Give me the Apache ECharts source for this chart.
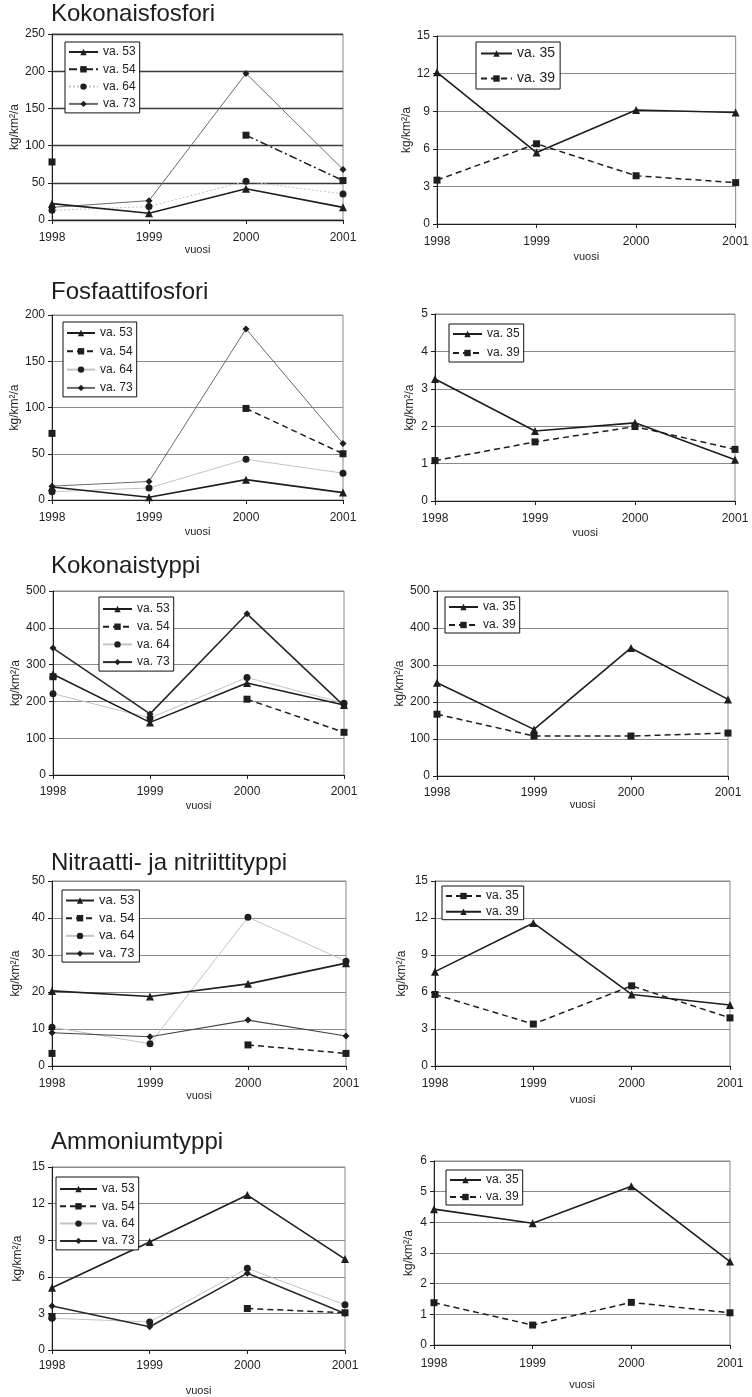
<!DOCTYPE html>
<html>
<head>
<meta charset="utf-8">
<script src="https://cdn.jsdelivr.net/npm/echarts@6/dist/echarts.min.js"></script>
<style>
html,body{margin:0;padding:0;background:#fff;}
#c{width:752px;height:1397px;}
</style>
</head>
<body>
<div id="c"></div>
<script>
const years = ['1998', '1999', '2000', '2001'];
const titles = ['Kokonaisfosfori', 'Fosfaattifosfori', 'Kokonaistyppi', 'Nitraatti- ja nitriittityppi', 'Ammoniumtyppi'];
const yName = 'kg/km²/a';
const xName = 'vuosi';
const yLeftMax = [250, 200, 500, 50, 15];
const yLeftStep = [50, 50, 100, 10, 3];
const yRightMax = [15, 5, 500, 15, 6];
const yRightStep = [3, 1, 100, 3, 1];

// Kokonaisfosfori
const totP_53 = [22, 9, 42, 17];
const totP_54 = [78, null, 114, 53];
const totP_64 = [13, 18, 52, 35];
const totP_73 = [17, 26, 197, 68];
const totP_35 = [12.1, 5.7, 9.1, 8.9];
const totP_39 = [3.5, 6.4, 3.85, 3.3];
// Fosfaattifosfori
const po4_53 = [14, 3, 22, 8];
const po4_54 = [72, null, 99, 50];
const po4_64 = [9, 13, 44, 29];
const po4_73 = [15, 20, 185, 61];
const po4_35 = [3.26, 1.87, 2.09, 1.1];
const po4_39 = [1.08, 1.58, 1.99, 1.38];
// Kokonaistyppi
const totN_53 = [274, 143, 250, 190];
const totN_54 = [267, null, 206, 116];
const totN_64 = [221, 155, 265, 195];
const totN_73 = [345, 166, 438, 188];
const totN_35 = [252, 126, 346, 207];
const totN_39 = [167, 108, 108, 116];
// Nitraatti- ja nitriittityppi
const no3_53 = [20.3, 18.8, 22.2, 27.8];
const no3_54 = [3.4, null, 5.7, 3.4];
const no3_64 = [10.5, 6, 40.2, 28.3];
const no3_73 = [9, 7.9, 12.4, 8.1];
const no3_35 = [5.8, 3.4, 6.5, 3.9];
const no3_39 = [7.65, 11.6, 5.8, 4.95];
// Ammoniumtyppi
const nh4_53 = [5.1, 8.85, 12.7, 7.45];
const nh4_54 = [2.75, null, 3.4, 3.05];
const nh4_64 = [2.6, 2.3, 6.7, 3.7];
const nh4_73 = [3.6, 1.9, 6.3, 3.0];
const nh4_35 = [4.43, 3.97, 5.18, 2.72];
const nh4_39 = [1.38, 0.65, 1.39, 1.05];

const FONT = 'Liberation Sans, Arial, sans-serif';
const NARROW = 'Liberation Sans Narrow, Liberation Sans, Arial, sans-serif';
const INK = '#1e1e1e';

// layout: [left, top, width, height, yNameGap, xLabelMargin, xNameGap]
const layouts = [
  [52, 34, 291, 186, 29, 12, 22],
  [437, 36, 302, 188, 21, 12, 27],
  [52, 315, 291, 185, 30, 12, 26],
  [435, 314, 300, 187, 19, 12, 26],
  [53, 591, 291, 184, 31, 11, 25],
  [437, 591, 291, 185, 31, 11, 23],
  [52, 881, 294, 185, 30, 12, 24],
  [435, 881, 295, 185, 27, 12, 28],
  [52, 1167, 293, 184, 28, 10, 35],
  [434, 1161, 296, 184, 19, 13, 34]
];
// legend: [left, top, itemWidth, fontSize, lineHeight, itemGap, padding]
const legends = [
  [65, 42, 29, 12, 14, 3.3, [3, 4, 2, 3]],
  [476, 42, 31, 14, 17, 8, [3, 5, 2, 4]],
  [63, 322, 28, 12, 14, 4.3, [4, 4, 2, 3]],
  [449, 324, 29, 12, 14, 5, [3, 4, 2, 3]],
  [99, 597, 29, 12, 14, 3.7, [5, 4, 2, 3]],
  [445, 597, 29, 12, 14, 4, [3, 4, 1, 3]],
  [62, 890, 28, 13, 15, 2.7, [3, 5, 1, 3]],
  [442, 886, 35, 12, 14, 1.7, [3, 5, 1, 3]],
  [56, 1177, 37, 12, 14, 3.3, [5, 4, 2, 3]],
  [446, 1170, 31, 12, 14, 3, [3, 4, 1, 3]]
];

const leftData = [
  [totP_53, totP_54, totP_64, totP_73],
  [po4_53, po4_54, po4_64, po4_73],
  [totN_53, totN_54, totN_64, totN_73],
  [no3_53, no3_54, no3_64, no3_73],
  [nh4_53, nh4_54, nh4_64, nh4_73]
];
const rightData = [
  [totP_35, totP_39],
  [po4_35, po4_39],
  [totN_35, totN_39],
  [no3_35, no3_39],
  [nh4_35, nh4_39]
];
// per-row styling of va.73 line (thin grey or dark)
const va73Style = [
  {color: '#6a6a6a', width: 1},
  {color: '#6a6a6a', width: 1},
  {color: '#2a2a2a', width: 1.6},
  {color: '#444', width: 1.1},
  {color: '#2a2a2a', width: 1.6}
];

const grids = [], xAxes = [], yAxes = [], series = [], legendCmp = [], titleCmp = [];

function addAxes(i, max, step, narrow) {
  const L = layouts[i];
  const fam = narrow ? NARROW : FONT;
  grids.push({left: L[0], top: L[1], width: L[2], height: L[3], show: true,
    borderColor: '#8a8a8a', borderWidth: 1, containLabel: false});
  xAxes.push({type: 'category', gridIndex: i, data: years, boundaryGap: false,
    axisLine: {show: true, lineStyle: {color: INK, width: 1}},
    axisTick: {show: true, length: 4, lineStyle: {color: INK}},
    axisLabel: {interval: 0, margin: L[5], fontSize: 12, color: INK, fontFamily: fam},
    splitLine: {show: false},
    name: xName, nameLocation: 'middle', nameGap: L[6],
    nameTextStyle: {fontSize: 11, color: INK, fontFamily: FONT}});
  yAxes.push({type: 'value', gridIndex: i, min: 0, max: max, interval: step,
    axisLine: {show: true, lineStyle: {color: INK, width: 1}},
    axisTick: {show: true, length: 4, lineStyle: {color: INK}},
    axisLabel: {margin: 7, fontSize: 12, color: INK, fontFamily: fam},
    splitLine: {show: true, lineStyle: {color: i === 0 ? '#3a3a3a' : '#8a8a8a', width: i === 0 ? 1.4 : 1}},
    name: yName, nameLocation: 'middle', nameGap: L[4], nameRotate: 90,
    nameTextStyle: {fontSize: 12, color: INK, fontFamily: FONT}});
}

function addLegend(i, names, narrow) {
  const g = legends[i];
  legendCmp.push({orient: 'vertical', left: g[0], top: g[1], itemWidth: g[2], itemHeight: 8,
    itemGap: g[5], padding: g[6], borderColor: '#111', borderWidth: 1, backgroundColor: '#fff',
    data: names, selectedMode: false,
    formatter: n => n.split('#')[0],
    textStyle: {fontSize: g[3], lineHeight: g[4], color: INK, fontFamily: narrow ? NARROW : FONT}});
}

function lineSeries(name, gi, data, sym, symSize, lineStyle) {
  return {name: name, type: 'line', xAxisIndex: gi, yAxisIndex: gi, data: data,
    symbol: sym, symbolSize: symSize, showSymbol: true, showAllSymbol: true, connectNulls: false,
    itemStyle: {color: INK, borderWidth: 0},
    lineStyle: lineStyle, emphasis: {disabled: true}, animation: false, z: 3};
}

for (let r = 0; r < 5; r++) {
  // left chart
  const li = r * 2;
  addAxes(li, yLeftMax[r], yLeftStep[r], false);
  const d = leftData[r];
  const n53 = 'va. 53#' + li, n54 = 'va. 54#' + li, n64 = 'va. 64#' + li, n73 = 'va. 73#' + li;
  series.push(lineSeries(n64, li, d[2], 'circle', 7, {color: '#c4c4c4', width: 1, type: r === 0 ? [2, 2] : 'solid'}));
  series.push(lineSeries(n73, li, d[3], 'diamond', 7, {color: va73Style[r].color, width: va73Style[r].width}));
  series.push(lineSeries(n54, li, d[1], 'rect', 7, {color: INK, width: 1.5, type: r === 0 ? [8, 3, 2, 3] : [6, 4]}));
  series.push(lineSeries(n53, li, d[0], 'triangle', 8, {color: INK, width: 1.6}));
  addLegend(li, [n53, n54, n64, n73], false);
  titleCmp.push({text: titles[r], left: 51, top: [2, 280, 554, 851, 1130][r], padding: 0,
    textStyle: {fontSize: 24, fontWeight: 'normal', color: INK, fontFamily: FONT}});

  // right chart
  const ri = r * 2 + 1;
  const narrow = r === 0;
  addAxes(ri, yRightMax[r], yRightStep[r], narrow);
  const e = rightData[r];
  const n35 = 'va. 35#' + ri, n39 = 'va. 39#' + ri;
  if (r === 3) {
    // in this panel va. 35 is dashed/squares and va. 39 solid/triangles
    series.push(lineSeries(n35, ri, e[0], 'rect', 7, {color: INK, width: 1.5, type: [6, 4]}));
    series.push(lineSeries(n39, ri, e[1], 'triangle', 8, {color: INK, width: 1.6}));
  } else {
    series.push(lineSeries(n39, ri, e[1], 'rect', 7, {color: INK, width: 1.5, type: [6, 4]}));
    series.push(lineSeries(n35, ri, e[0], 'triangle', 8, {color: INK, width: 1.6}));
  }
  addLegend(ri, [n35, n39], narrow);
}

const chart = echarts.init(document.getElementById('c'), null, {renderer: 'canvas', width: 752, height: 1397});
chart.setOption({
  animation: false,
  backgroundColor: '#fff',
  title: titleCmp,
  grid: grids,
  xAxis: xAxes,
  yAxis: yAxes,
  legend: legendCmp,
  series: series
});
</script>
</body>
</html>
